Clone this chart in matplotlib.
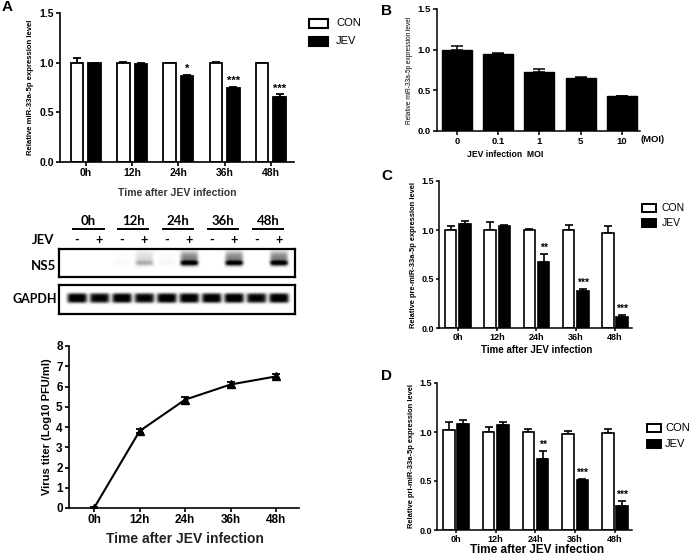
import numpy as np
import matplotlib
matplotlib.use("Agg")
import matplotlib.pyplot as plt
from matplotlib.patches import Rectangle

plt.rcParams['font.family'] = ['Liberation Sans', 'DejaVu Sans']

# ---------------- data ----------------
time_labels = ['0h', '12h', '24h', '36h', '48h']
series_names = ['CON', 'JEV']

A_con = [1.00, 1.00, 1.00, 1.00, 1.00]
A_con_err = [0.05, 0.01, 0.00, 0.01, 0.00]
A_jev = [1.00, 0.99, 0.87, 0.75, 0.65]
A_jev_err = [0.00, 0.01, 0.01, 0.01, 0.03]
A_stars = ['', '', '*', '***', '***']

B_moi = ['0', '0.1', '1', '5', '10']
B_vals = [1.00, 0.95, 0.73, 0.65, 0.43]
B_err = [0.04, 0.01, 0.03, 0.01, 0.00]

C_con = [1.00, 1.00, 1.00, 1.00, 0.97]
C_con_err = [0.04, 0.08, 0.01, 0.05, 0.07]
C_jev = [1.06, 1.04, 0.67, 0.38, 0.11]
C_jev_err = [0.03, 0.01, 0.09, 0.02, 0.02]
C_stars = ['', '', '**', '***', '***']

D_con = [1.02, 1.00, 1.00, 0.98, 0.99]
D_con_err = [0.08, 0.05, 0.03, 0.03, 0.04]
D_jev = [1.08, 1.07, 0.72, 0.51, 0.25]
D_jev_err = [0.04, 0.03, 0.09, 0.01, 0.05]
D_stars = ['', '', '**', '***', '***']

titer = [0.0, 3.8, 5.35, 6.1, 6.5]
titer_err = [0.05, 0.10, 0.15, 0.10, 0.10]

blot_lane_sign = ['-', '+'] * 5
ns5_intensity = [0.0, 0.0, 0.02, 0.28, 0.03, 1.0, 0.0, 0.97, 0.0, 1.0]
gapdh_intensity = [1.0, 0.95, 1.0, 0.95, 1.0, 1.0, 1.0, 1.0, 0.95, 1.0]

# ---------------- layout helpers ----------------
W, H = 696, 559
fig = plt.figure(figsize=(W / 100, H / 100), dpi=100)


def px_axes(x0, ytop, x1, ybot):
    return fig.add_axes([x0 / W, 1 - ybot / H, (x1 - x0) / W, (ybot - ytop) / H])


def ftext(x, y, s, **kw):
    fig.text(x / W, 1 - y / H, s, **kw)


def style_axes(ax, lw=1.2, length=3, pad=1.5):
    for sp in ['top', 'right']:
        ax.spines[sp].set_visible(False)
    for sp in ['left', 'bottom']:
        ax.spines[sp].set_linewidth(lw)
    ax.tick_params(direction='out', length=length, width=lw, pad=pad)


def legend_px(xbox, y_list, xtext, bw, bh, fs, lw):
    for y, name, fc in zip(y_list, series_names, ['white', 'black']):
        fig.patches.append(Rectangle(((xbox) / W, 1 - (y + bh / 2) / H), bw / W, bh / H,
                                     transform=fig.transFigure, facecolor=fc,
                                     edgecolor='black', linewidth=lw))
        ftext(xtext, y, name, fontsize=fs, va='center', ha='left')


def grouped_bars(ax, con, con_err, jev, jev_err, stars, off, width, lw, cap, star_fs, star_gap):
    x = np.arange(len(con))
    ax.bar(x - off, con, width, color='white', edgecolor='black', linewidth=lw, zorder=2)
    ax.bar(x + off, jev, width, color='black', edgecolor='black', linewidth=lw, zorder=2)
    ax.errorbar(x - off, con, yerr=[np.zeros(len(con)), con_err], fmt='none',
                ecolor='black', elinewidth=lw, capsize=cap, capthick=lw, zorder=1)
    ax.errorbar(x + off, jev, yerr=[np.zeros(len(jev)), jev_err], fmt='none',
                ecolor='black', elinewidth=lw, capsize=cap, capthick=lw, zorder=1)
    for xi, v, e, s in zip(x, jev, jev_err, stars):
        if s:
            ax.text(xi + off, v + e + star_gap, s, ha='center', va='bottom',
                    fontsize=star_fs, fontweight='bold')


# ---------------- Panel A: bar chart ----------------
axA = px_axes(60, 13, 294, 162)
grouped_bars(axA, A_con, A_con_err, A_jev, A_jev_err, A_stars, 0.19, 0.27, 1.3, 3, 8, 0.005)
axA.set_xlim(-0.56, 4.5)
axA.set_ylim(0, 1.5)
axA.set_yticks([0, 0.5, 1.0, 1.5])
axA.set_yticklabels(['0.0', '0.5', '1.0', '1.5'])
axA.set_xticks(range(5))
axA.set_xticklabels(time_labels)
style_axes(axA)
for lab in axA.get_xticklabels() + axA.get_yticklabels():
    lab.set_fontsize(7.5)
    lab.set_fontweight('bold')
axA.set_ylabel('Relative miR-33a-5p expression level', fontsize=5.6, fontweight='bold', labelpad=4)
ftext(177, 193, 'Time after JEV infection', fontsize=7.5, fontweight='bold',
      ha='center', va='center', color='#333333')
legend_px(309, [23, 41], 336, 19, 9, 8, 1.5)
ftext(2, 7, 'A', fontsize=11, fontweight='bold', ha='left', va='center')

# ---------------- Panel A: western blot ----------------
blot_font = ['Lato', 'DejaVu Sans']
lanes = np.arange(10)
xs = np.linspace(-0.8, 9.7, 420)
ys = np.linspace(0, 1, 80)
X, Y = np.meshgrid(xs, ys)

img_ns5 = np.zeros_like(X)
img_gapdh = np.zeros_like(X)
for i, a, g in zip(lanes, ns5_intensity, gapdh_intensity):
    hprof = np.exp(-((X - i) / 0.40) ** 6)
    band = np.exp(-((Y - 0.50) / 0.10) ** 2)
    smear = np.exp(-((Y - 0.28) / 0.20) ** 2) * 0.45
    img_ns5 += a * hprof * (band + smear)
    hprof_g = np.exp(-((X - i) / 0.44) ** 6)
    band_g = np.exp(-((Y - 0.45) / 0.17) ** 4)
    img_gapdh += g * hprof_g * band_g
img_ns5 = np.clip(img_ns5 * 1.05, 0, 1)
img_gapdh = np.clip(img_gapdh * 1.05, 0, 1)

axN = px_axes(59, 249, 295, 277)
axN.imshow(img_ns5, cmap='gray_r', vmin=0, vmax=1, extent=(-0.8, 9.7, 1, 0),
           aspect='auto', interpolation='bilinear')
axG = px_axes(59, 285, 295, 314)
axG.imshow(img_gapdh, cmap='gray_r', vmin=0, vmax=1, extent=(-0.8, 9.7, 1, 0),
           aspect='auto', interpolation='bilinear')
for ax in (axN, axG):
    ax.set_xlim(-0.8, 9.7)
    ax.set_ylim(1, 0)
    ax.set_xticks([])
    ax.set_yticks([])
    for sp in ax.spines.values():
        sp.set_linewidth(1.6)

# header labels, underline, +/- signs using the NS5 axes x data coordinates
for k, lab in enumerate(time_labels):
    cx = 2 * k + 0.5
    axN.text(cx, -0.80, lab, ha='center', va='bottom', fontsize=9.5, fontweight='bold',
             family=blot_font, clip_on=False)
    axN.plot([cx - 0.68, cx + 0.68], [-0.72, -0.72], color='black', lw=1.4, clip_on=False)
for i, s in zip(lanes, blot_lane_sign):
    axN.text(i, -0.32, s, ha='center', va='center', fontsize=9, fontweight='bold',
             family=blot_font, clip_on=False)
ftext(43, 240, 'JEV', fontsize=9.5, fontweight='bold', family=blot_font, ha='center', va='center')
ftext(43, 266, 'NS5', fontsize=9.5, fontweight='bold', family=blot_font, ha='center', va='center')
ftext(35, 299, 'GAPDH', fontsize=9, fontweight='bold', family=blot_font, ha='center', va='center')

# ---------------- Panel A: virus titer line ----------------
axL = px_axes(69, 346, 299, 508)
xl = np.arange(len(titer))
axL.errorbar(xl, titer, yerr=titer_err, fmt='-^', color='black', lw=1.5,
             markersize=5.5, capsize=3, elinewidth=1.3, capthick=1.3)
axL.set_xlim(-0.55, 4.5)
axL.set_ylim(0, 8)
axL.set_yticks(range(0, 9))
axL.set_xticks(range(5))
axL.set_xticklabels(time_labels)
style_axes(axL)
axL.spines['left'].set_bounds(0, 8)
for lab in axL.get_xticklabels() + axL.get_yticklabels():
    lab.set_fontsize(8.5)
    lab.set_fontweight('bold')
axL.set_ylabel('Virus titer (Log10 PFU/ml)', fontsize=8, fontweight='bold', labelpad=3)
ftext(185, 539, 'Time after JEV infection', fontsize=10, fontweight='bold',
      ha='center', va='center', color='#222222')

# ---------------- Panel B ----------------
axB = px_axes(437, 9, 640, 131)
xb = np.arange(len(B_vals))
axB.bar(xb, B_vals, 0.73, color='black', edgecolor='black', zorder=2)
axB.errorbar(xb, B_vals, yerr=[np.zeros(len(B_vals)), B_err], fmt='none', ecolor='black',
             elinewidth=1.1, capsize=4, capthick=1.1, zorder=1)
axB.set_xlim(-0.48, 4.44)
axB.set_ylim(0, 1.5)
axB.set_yticks([0, 0.5, 1.0, 1.5])
axB.set_yticklabels(['0.0', '0.5', '1.0', '1.5'])
axB.set_xticks(range(5))
axB.set_xticklabels(B_moi)
style_axes(axB, 1.1)
for lab in axB.get_xticklabels() + axB.get_yticklabels():
    lab.set_fontsize(6.8)
    lab.set_fontweight('bold')
axB.set_ylabel('Relative miR-33a-5p expression level', fontsize=4.7, labelpad=3)
ftext(653, 139, '(MOI)', fontsize=6.8, fontweight='bold', ha='center', va='center')
ftext(505, 155, 'JEV infection  MOI', fontsize=6.2, fontweight='bold', ha='center', va='center')
ftext(387, 11, 'B', fontsize=11, fontweight='bold', ha='center', va='center')

# ---------------- Panel C ----------------
axC = px_axes(439, 181, 632, 328)
grouped_bars(axC, C_con, C_con_err, C_jev, C_jev_err, C_stars, 0.18, 0.29, 1.2, 3, 7.5, 0.01)
axC.set_xlim(-0.48, 4.43)
axC.set_ylim(0, 1.5)
axC.set_yticks([0, 0.5, 1.0, 1.5])
axC.set_yticklabels(['0.0', '0.5', '1.0', '1.5'])
axC.set_xticks(range(5))
axC.set_xticklabels(time_labels)
style_axes(axC, 1.1, 2.5, 1)
for lab in axC.get_xticklabels() + axC.get_yticklabels():
    lab.set_fontsize(6.5)
    lab.set_fontweight('bold')
axC.set_ylabel('Relative pre-miR-33a-5p expression level', fontsize=5.4, fontweight='bold', labelpad=3)
ftext(537, 350, 'Time after JEV infection', fontsize=7, fontweight='bold', ha='center', va='center')
legend_px(642, [208, 223], 662, 14, 8, 7.5, 1.4)
ftext(387, 176, 'C', fontsize=11, fontweight='bold', ha='center', va='center')

# ---------------- Panel D ----------------
axD = px_axes(437, 383, 632, 530)
grouped_bars(axD, D_con, D_con_err, D_jev, D_jev_err, D_stars, 0.18, 0.29, 1.2, 3, 7.5, 0.01)
axD.set_xlim(-0.48, 4.43)
axD.set_ylim(0, 1.5)
axD.set_yticks([0, 0.5, 1.0, 1.5])
axD.set_yticklabels(['0.0', '0.5', '1.0', '1.5'])
axD.set_xticks(range(5))
axD.set_xticklabels(time_labels)
style_axes(axD, 1.1, 2.5, 1)
for lab in axD.get_xticklabels() + axD.get_yticklabels():
    lab.set_fontsize(6.5)
    lab.set_fontweight('bold')
axD.set_ylabel('Relative pri-miR-33a-5p expression level', fontsize=5.4, fontweight='bold', labelpad=3)
ftext(537, 550, 'Time after JEV infection', fontsize=8.5, fontweight='bold', ha='center', va='center')
legend_px(647, [428, 444], 665, 14, 8, 8, 1.4)
ftext(387, 376, 'D', fontsize=11, fontweight='bold', ha='center', va='center')

fig.savefig('out.png', dpi=100)
